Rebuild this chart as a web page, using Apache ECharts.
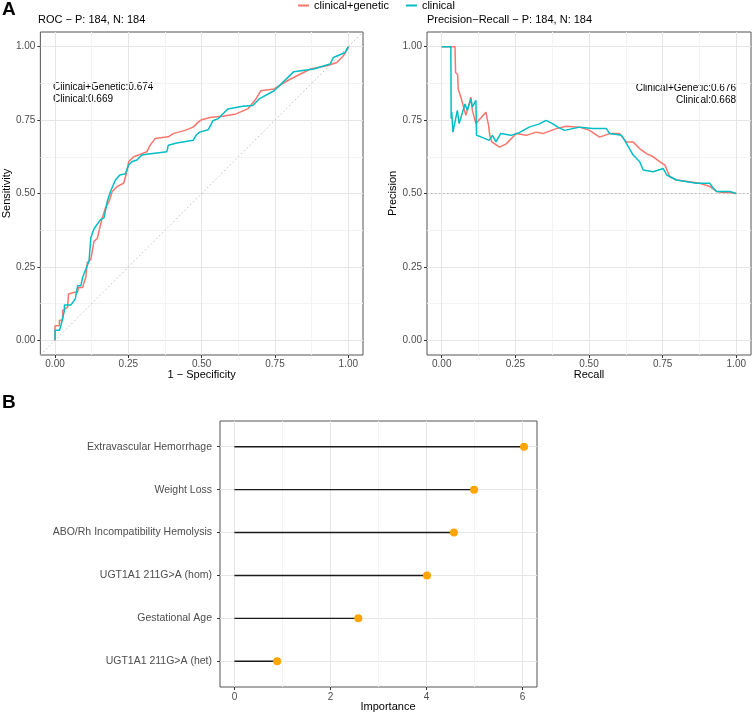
<!DOCTYPE html>
<html>
<head>
<meta charset="utf-8">
<script src="https://cdn.jsdelivr.net/npm/echarts@6/dist/echarts.min.js"></script>
<style>
  html, body { margin: 0; padding: 0; background: #fff; }
  #chart { width: 754px; height: 713px; }
</style>
</head>
<body>
<div id="chart"></div>
<script>
// series names
const seriesNames = ['clinical+genetic', 'clinical'];

// ROC curves (1 - specificity, sensitivity)
const rocFprGenetic = [0,0,0.015,0.015,0.026,0.026,0.043,0.046,0.066,0.077,0.08,0.094,0.099,0.105,0.11,0.122,0.133,0.144,0.155,0.161,0.172,0.184,0.195,0.212,0.234,0.243,0.251,0.268,0.285,0.313,0.324,0.341,0.386,0.403,0.443,0.471,0.488,0.499,0.533,0.572,0.617,0.657,0.685,0.702,0.747,0.792,0.837,0.871,0.927,0.961,0.983,1,1];
const rocTprGenetic = [0,0.05,0.05,0.068,0.068,0.101,0.113,0.158,0.164,0.164,0.18,0.18,0.197,0.214,0.265,0.276,0.338,0.346,0.394,0.417,0.451,0.473,0.507,0.524,0.535,0.567,0.608,0.625,0.631,0.642,0.664,0.687,0.693,0.704,0.715,0.726,0.743,0.751,0.76,0.763,0.771,0.788,0.822,0.85,0.856,0.884,0.907,0.924,0.935,0.946,0.969,0.997,1];
const rocFprClinical = [0,0,0.015,0.02,0.032,0.032,0.054,0.069,0.077,0.088,0.094,0.105,0.116,0.122,0.133,0.155,0.167,0.178,0.189,0.206,0.221,0.24,0.251,0.262,0.279,0.296,0.313,0.381,0.386,0.415,0.471,0.482,0.493,0.522,0.533,0.538,0.555,0.589,0.64,0.674,0.696,0.747,0.814,0.882,0.938,0.949,0.989,1];
const rocTprClinical = [0,0.034,0.034,0.05,0.101,0.12,0.12,0.141,0.186,0.186,0.214,0.242,0.27,0.349,0.38,0.411,0.417,0.473,0.507,0.546,0.563,0.567,0.597,0.608,0.614,0.631,0.634,0.642,0.664,0.672,0.681,0.7,0.709,0.717,0.737,0.748,0.754,0.788,0.797,0.8,0.822,0.85,0.915,0.924,0.941,0.963,0.98,1];

// precision-recall curves
const prRecallGenetic = [0,0.045,0.047,0.054,0.056,0.062,0.065,0.082,0.099,0.104,0.116,0.15,0.159,0.163,0.17,0.196,0.219,0.253,0.287,0.321,0.343,0.389,0.423,0.468,0.502,0.536,0.57,0.604,0.627,0.65,0.672,0.695,0.718,0.741,0.758,0.774,0.797,0.842,0.876,0.91,0.933,0.956,0.978,1.0];
const prPrecisionGenetic = [1,1,0.912,0.905,0.856,0.856,0.828,0.766,0.828,0.783,0.738,0.777,0.732,0.698,0.676,0.658,0.669,0.704,0.698,0.709,0.704,0.721,0.729,0.726,0.715,0.692,0.704,0.704,0.675,0.675,0.653,0.636,0.625,0.608,0.597,0.557,0.546,0.54,0.535,0.524,0.507,0.503,0.503,0.5];
const prRecallClinical = [0,0.031,0.032,0.034,0.038,0.053,0.059,0.079,0.087,0.099,0.104,0.116,0.118,0.133,0.161,0.172,0.184,0.2,0.235,0.263,0.297,0.332,0.354,0.376,0.394,0.417,0.468,0.513,0.559,0.57,0.61,0.621,0.65,0.672,0.684,0.718,0.752,0.764,0.797,0.865,0.91,0.922,0.933,0.978,1.0];
const prPrecisionClinical = [1,1,0.755,0.777,0.709,0.783,0.738,0.805,0.783,0.822,0.794,0.817,0.698,0.693,0.681,0.698,0.676,0.704,0.698,0.707,0.726,0.737,0.749,0.738,0.726,0.715,0.726,0.721,0.721,0.704,0.698,0.681,0.631,0.608,0.58,0.574,0.585,0.563,0.546,0.535,0.535,0.518,0.507,0.507,0.5];

// reference lines
const chanceLine = [-0.05, 1.05];
const prBaseline = 184 / (184 + 184);

// feature importance (bottom to top)
const features = ['UGT1A1 211G>A (het)', 'Gestational Age', 'UGT1A1 211G>A (hom)', 'ABO/Rh Incompatibility Hemolysis', 'Weight Loss', 'Extravascular Hemorrhage'];
const importance = [0.89, 2.58, 4.01, 4.57, 4.99, 6.03];

// tick positions
const unitTicks = [0, 0.25, 0.5, 0.75, 1];
const importanceTicks = [0, 2, 4, 6];
const featureTicks = [0, 1, 2, 3, 4, 5];

const FONT = '"Liberation Sans", Arial, sans-serif';
const TICK = '#4d4d4d';
const MAJOR = '#e6e6e6';
const MINOR = '#f3f3f3';
const NONE = 'rgba(0,0,0,0)';
const RED = '#F8766D';
const CYAN = '#00BFC4';

const zip = (a, b) => a.map((v, i) => [v, b[i]]);
const near = (v, step) => Math.abs(v / step - Math.round(v / step)) < 1e-6;

// split lines drawn every interval step; colour cycle keeps only major / minor ones
const unitColors = Array(10).fill(NONE);
unitColors[2] = MAJOR; unitColors[7] = MINOR;
const impColors = Array(20).fill(NONE);
impColors[3] = MAJOR; impColors[13] = MINOR;
const catColors = Array(5).fill(NONE);
catColors[3] = MAJOR;

function unitAxis(grid, name, isX, gap) {
  return {
    type: 'value', gridIndex: grid, min: -0.05, max: 1.05, interval: 0.025,
    name: name, nameLocation: 'middle', nameGap: gap,
    nameTextStyle: { fontFamily: FONT, fontSize: 11, color: '#000' },
    axisLine: { show: false, onZero: false }, axisTick: { show: false },
    axisLabel: {
      fontFamily: FONT, fontSize: 10, color: TICK, margin: isX ? 4 : 5,
      formatter: v => near(v, 0.25) && v > -0.01 && v < 1.01 ? v.toFixed(2) : ''
    },
    splitLine: { show: true, lineStyle: { color: unitColors, width: 1 } }
  };
}

// tick-only companion axis sharing the same scale
function tickAxis(grid, min, max, interval, ticks) {
  return {
    type: 'value', gridIndex: grid, min: min, max: max, interval: interval,
    axisLine: { show: false, onZero: false },
    axisTick: { show: true, customValues: ticks, length: 3, lineStyle: { color: '#333', width: 1 } },
    axisLabel: { show: false }, splitLine: { show: false }
  };
}

const chart = echarts.init(document.getElementById('chart'));
const option = {
  animation: false,
  backgroundColor: '#fff',
  textStyle: { fontFamily: FONT },
  title: [
    { text: 'ROC − P: 184, N: 184', left: 38, top: 14, padding: 0,
      textStyle: { fontFamily: FONT, fontSize: 11, fontWeight: 'normal', color: '#000' } },
    { text: 'Precision−Recall − P: 184, N: 184', left: 427, top: 14, padding: 0,
      textStyle: { fontFamily: FONT, fontSize: 11, fontWeight: 'normal', color: '#000' } }
  ],
  legend: {
    data: seriesNames, top: 0, left: 298, padding: 0,
    icon: 'rect', itemWidth: 11, itemHeight: 2, itemGap: 17,
    textStyle: { fontFamily: FONT, fontSize: 11, color: '#000' }
  },
  grid: [
    { left: 39, top: 32, width: 324, height: 323, show: true, borderColor: '#555', borderWidth: 1, backgroundColor: NONE },
    { left: 427, top: 32, width: 325, height: 323, show: true, borderColor: '#555', borderWidth: 1, backgroundColor: NONE },
    { left: 220, top: 421, width: 317, height: 266, show: true, borderColor: '#555', borderWidth: 1, backgroundColor: NONE }
  ],
  xAxis: [
    unitAxis(0, '1 − Specificity', true, 12),
    unitAxis(1, 'Recall', true, 12),
    {
      type: 'value', gridIndex: 2, min: -0.3, max: 6.3, interval: 0.1,
      axisLine: { show: false, onZero: false }, axisTick: { show: false },
      axisLabel: {
        fontFamily: FONT, fontSize: 10, color: TICK, margin: 5,
        formatter: v => near(v, 2) && v > -0.01 ? String(Math.round(v)) : ''
      },
      splitLine: { show: true, lineStyle: { color: impColors, width: 1 } }
    },
    Object.assign(tickAxis(0, -0.05, 1.05, 0.025, unitTicks), { position: 'bottom' }),
    Object.assign(tickAxis(1, -0.05, 1.05, 0.025, unitTicks), { position: 'bottom' }),
    Object.assign(tickAxis(2, -0.3, 6.3, 0.1, importanceTicks), { position: 'bottom' })
  ],
  yAxis: [
    unitAxis(0, 'Sensitivity', false, 27),
    unitAxis(1, 'Precision', false, 26),
    {
      type: 'value', gridIndex: 2, min: -0.6, max: 5.6, interval: 0.2,
      axisLine: { show: false, onZero: false }, axisTick: { show: false },
      axisLabel: {
        fontFamily: FONT, fontSize: 10.5, color: TICK, margin: 8,
        formatter: v => near(v, 1) && v > -0.01 ? (features[Math.round(v)] || '') : ''
      },
      splitLine: { show: true, lineStyle: { color: catColors, width: 1 } }
    },
    Object.assign(tickAxis(0, -0.05, 1.05, 0.025, unitTicks), { position: 'left' }),
    Object.assign(tickAxis(1, -0.05, 1.05, 0.025, unitTicks), { position: 'left' }),
    Object.assign(tickAxis(2, -0.6, 5.6, 0.2, featureTicks), { position: 'left' })
  ],
  graphic: [
    { type: 'text', left: 2, top: 0, style: { text: 'A', font: 'bold 19px ' + FONT, fill: '#000' } },
    { type: 'text', left: 2, top: 393, style: { text: 'B', font: 'bold 19px ' + FONT, fill: '#000' } },
    { type: 'text', x: 53, y: 87, style: { text: 'Clinical+Genetic:0.674', font: '10px ' + FONT, fill: '#000', textVerticalAlign: 'middle' } },
    { type: 'text', x: 53, y: 99, style: { text: 'Clinical:0.669', font: '10px ' + FONT, fill: '#000', textVerticalAlign: 'middle' } },
    { type: 'text', x: 736, y: 88, style: { text: 'Clinical+Genetic:0.676', font: '10px ' + FONT, fill: '#000', textAlign: 'right', textVerticalAlign: 'middle' } },
    { type: 'text', x: 736, y: 100, style: { text: 'Clinical:0.668', font: '10px ' + FONT, fill: '#000', textAlign: 'right', textVerticalAlign: 'middle' } },
    { type: 'text', x: 388, y: 707, style: { text: 'Importance', font: '11px ' + FONT, fill: '#000', textAlign: 'center', textVerticalAlign: 'middle' } }
  ],
  series: [
    {
      name: 'chance', type: 'line', xAxisIndex: 0, yAxisIndex: 0, silent: true,
      data: zip(chanceLine, chanceLine), showSymbol: false,
      lineStyle: { color: '#bdbdbd', width: 1, type: [1.5, 2.5] }
    },
    {
      name: 'baseline', type: 'line', xAxisIndex: 1, yAxisIndex: 1, silent: true,
      data: chanceLine.map(x => [x, prBaseline]), showSymbol: false,
      lineStyle: { color: '#bdbdbd', width: 1, type: [1.5, 2.5] }
    },
    {
      name: seriesNames[0], type: 'line', xAxisIndex: 0, yAxisIndex: 0,
      data: zip(rocFprGenetic, rocTprGenetic), showSymbol: false, color: RED,
      lineStyle: { color: RED, width: 1.5 }
    },
    {
      name: seriesNames[1], type: 'line', xAxisIndex: 0, yAxisIndex: 0,
      data: zip(rocFprClinical, rocTprClinical), showSymbol: false, color: CYAN,
      lineStyle: { color: CYAN, width: 1.5 }
    },
    {
      name: seriesNames[0], type: 'line', xAxisIndex: 1, yAxisIndex: 1,
      data: zip(prRecallGenetic, prPrecisionGenetic), showSymbol: false, color: RED,
      lineStyle: { color: RED, width: 1.5 }
    },
    {
      name: seriesNames[1], type: 'line', xAxisIndex: 1, yAxisIndex: 1,
      data: zip(prRecallClinical, prPrecisionClinical), showSymbol: false, color: CYAN,
      lineStyle: { color: CYAN, width: 1.5 }
    },
    {
      name: 'stems', type: 'custom', xAxisIndex: 2, yAxisIndex: 2, silent: true,
      data: importance.map((v, i) => [v, i]),
      renderItem: (params, api) => {
        const s = api.coord([0, api.value(1)]);
        const e = api.coord([api.value(0), api.value(1)]);
        return { type: 'line', shape: { x1: s[0], y1: s[1], x2: e[0], y2: e[1] },
                 style: { stroke: '#1a1a1a', lineWidth: 1.4 } };
      }
    },
    {
      name: 'importance', type: 'scatter', xAxisIndex: 2, yAxisIndex: 2,
      data: importance.map((v, i) => [v, i]), symbolSize: 8,
      itemStyle: { color: '#FFA500', opacity: 1 }
    }
  ]
};
chart.setOption(option);
</script>
</body>
</html>
